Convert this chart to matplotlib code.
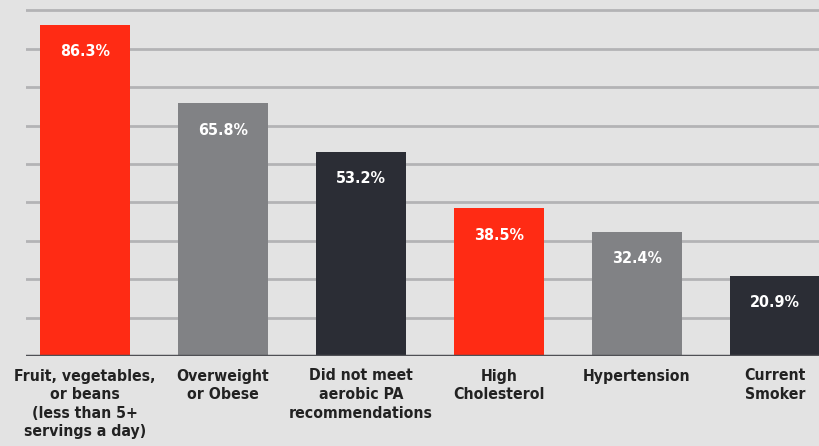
import matplotlib.pyplot as plt

categories = ["Fruit, vegetables,\nor beans\n(less than 5+\nservings a day)",
              "Overweight\nor Obese",
              "Did not meet\naerobic PA\nrecommendations",
              "High\nCholesterol",
              "Hypertension",
              "Current\nSmoker"]
values = [86.3, 65.8, 53.2, 38.5, 32.4, 20.9]
bar_colors = ["#ff2b14", "#818285", "#2b2d35", "#ff2b14", "#818285", "#2b2d35"]
grid_ticks = [10, 20, 30, 40, 50, 60, 70, 80, 90]

bg = "#e3e3e3"
font = dict(family="DejaVu Sans", fontweight="bold", fontstretch="condensed")

fig = plt.figure(figsize=(8.19, 4.46), dpi=100, facecolor=bg)
ax = fig.add_axes([26 / 819, 90 / 446, 793 / 819, 356 / 446], facecolor=bg)

for y in grid_ticks:
    ax.axhline(y, color="#b3b3b5", lw=2, zorder=0)

x = list(range(len(values)))
ax.bar(x, values, width=0.652, color=bar_colors, zorder=2)
ax.axhline(0, color="#4f5055", lw=2.5, zorder=3)

for i, v in enumerate(values):
    ax.annotate(f"{v}%", (i, v), xytext=(0, -19.5), textcoords="offset points",
                ha="center", va="center", color="white", fontsize=11.5, **font)

ax.set_xlim(-0.428, 5.32)
ax.set_ylim(0, 92.7)
ax.set_xticks(x)
ax.set_xticklabels(categories, fontsize=11.3, color="#222222", linespacing=1.3, **font)
ax.tick_params(axis="x", length=0, pad=9)
ax.set_yticks([])
for s in ax.spines.values():
    s.set_visible(False)

plt.savefig("out.png", dpi=100, facecolor=bg)
